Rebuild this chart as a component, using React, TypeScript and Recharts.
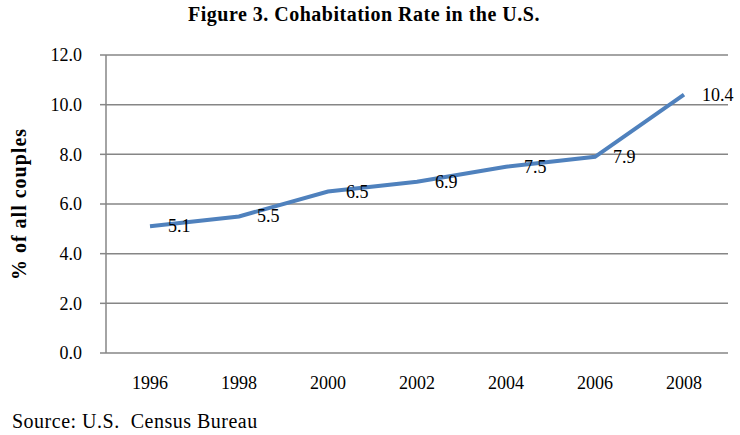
import React from 'react';
import { LineChart, Line, XAxis, YAxis, CartesianGrid, LabelList } from 'recharts';

const years = ['1996', '1998', '2000', '2002', '2004', '2006', '2008'];
const rates = [5.1, 5.5, 6.5, 6.9, 7.5, 7.9, 10.4];
const yTicks = [0, 2, 4, 6, 8, 10, 12];

const data = years.map((y, i) => ({ year: y, rate: rates[i] }));

const FONT = '"Liberation Serif", "Times New Roman", serif';

const renderLabel = (props: any) => {
  const { x, y, value } = props;
  return (
    <text x={x + 18} y={y + 6} fontFamily={FONT} fontSize={18} fill="#000" textAnchor="start">
      {Number(value).toFixed(1)}
    </text>
  );
};

export default function App() {
  return (
    <div style={{ position: 'absolute', left: 0, top: 0, width: 740, height: 435, background: '#fff', fontFamily: FONT }}>
      <div style={{ position: 'absolute', left: 188, top: 3, whiteSpace: 'nowrap', fontWeight: 'bold', fontSize: 20, letterSpacing: 0.5 }}>
        Figure 3. Cohabitation Rate in the U.S.
      </div>
      <LineChart width={740} height={435} data={data} margin={{ top: 55, right: 12, bottom: 32, left: 46 }}>
        <CartesianGrid vertical={false} stroke="#868686" strokeWidth={1.5} />
        <XAxis
          dataKey="year"
          height={50}
          padding={{ left: 44, right: 44 }}
          axisLine={false}
          tickLine={false}
          tickMargin={17}
          tick={{ fontFamily: FONT, fontSize: 18, fill: '#000' }}
        />
        <YAxis
          width={60}
          domain={[0, 12]}
          ticks={yTicks}
          interval={0}
          tickFormatter={(v: number) => v.toFixed(1)}
          axisLine={{ stroke: '#868686', strokeWidth: 1.5 }}
          tickLine={{ stroke: '#868686', strokeWidth: 1.5 }}
          tickSize={6}
          tickMargin={18}
          tick={{ fontFamily: FONT, fontSize: 18, fill: '#000' }}
          label={{
            value: '% of all couples',
            angle: -90,
            position: 'insideLeft',
            offset: -27,
            style: { fontFamily: FONT, fontSize: 20, fontWeight: 'bold', fill: '#000', textAnchor: 'middle', letterSpacing: 1 },
          }}
        />
        <Line
          type="linear"
          dataKey="rate"
          stroke="#4F81BD"
          strokeWidth={4}
          dot={false}
          isAnimationActive={false}
        >
          <LabelList dataKey="rate" content={renderLabel} />
        </Line>
      </LineChart>
      <div style={{ position: 'absolute', left: 12, top: 410, fontSize: 20, whiteSpace: 'nowrap', letterSpacing: 0.5 }}>
        Source: U.S.&nbsp; Census Bureau
      </div>
    </div>
  );
}
